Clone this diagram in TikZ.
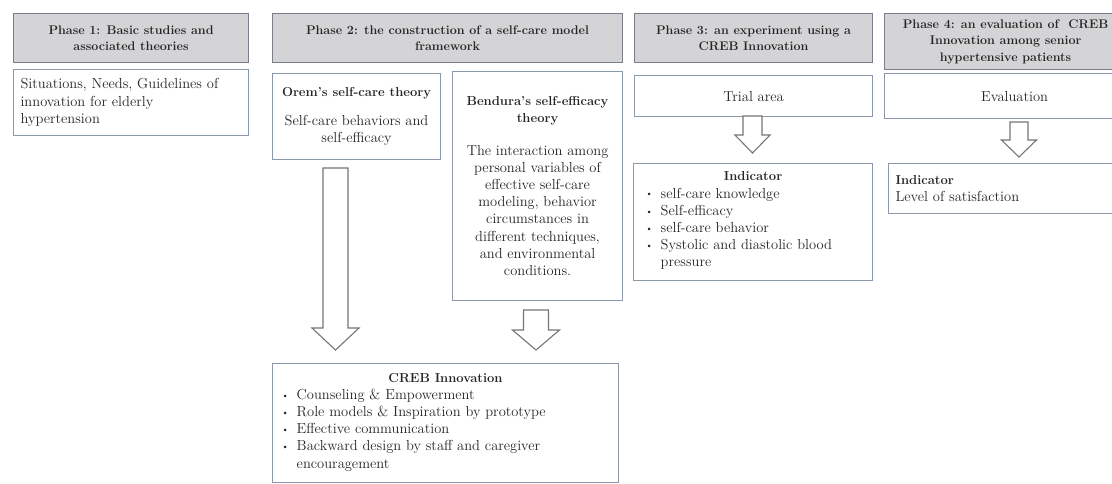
\documentclass[tikz,border=0pt]{standalone}
\usepackage{fontspec}
\definecolor{hdrfill}{RGB}{212,212,214}
\definecolor{hdrline}{RGB}{120,126,138}
\definecolor{boxline}{RGB}{140,152,172}
\definecolor{arrline}{RGB}{118,118,118}
\definecolor{txt}{RGB}{38,38,38}
\newcommand\bodyfnt{\fontsize{14.5}{17.2}\selectfont}
\newcommand\hdrfnt{\fontsize{12.5}{16.5}\selectfont\bfseries}
\newcommand\ttlfnt{\fontsize{13}{17}\selectfont\bfseries}
\newcommand\bul{\raisebox{1.2pt}{\small\textbullet}}
\newcommand\hollowarrow[6]{%
  \draw[barr] ({#1-#2},#4) -- ({#1+#2},#4) -- ({#1+#2},#5) -- ({#1+#3},#5)
    -- (#1,#6) -- ({#1-#3},#5) -- ({#1-#2},#5) -- cycle;}
\begin{document}
\begin{tikzpicture}[x=1pt,y=-1pt,
  box/.style={draw=boxline, line width=1.1pt, fill=white, inner ysep=0pt,
    inner xsep=7pt, anchor=north west, text=txt, font=\bodyfnt},
  hdr/.style={box, draw=hdrline, fill=hdrfill, font=\hdrfnt, align=center},
  barr/.style={draw=arrline, line width=1.1pt, fill=white, line join=miter}]
\useasboundingbox (0,0) rectangle (1112,483);
\fill[white] (0,0) rectangle (1112,483);

% Phase 1
\node[hdr, minimum width=235pt, minimum height=49pt] (p1h) at (13,13)
  {Phase 1: Basic studies and\\associated theories};
\node[box, minimum width=235pt, minimum height=66pt, text width=221pt, align=left] (p1b) at (13,69)
  {Situations, Needs, Guidelines of\\innovation for elderly\\hypertension};

% Phase 2
\node[hdr, minimum width=350pt, minimum height=49pt] (p2h) at (272,13)
  {Phase 2: the construction of a self-care model\\framework};
\node[box, minimum width=168pt, minimum height=86pt, align=center] (orem) at (272,73)
  {{\ttlfnt Orem's self-care theory}\\[12pt]Self-care behaviors and\\self-efficacy};
\node[box, minimum width=170pt, minimum height=229pt, align=center] (bend) at (452,71)
  {{\ttlfnt Bendura's self-efficacy}\\{\ttlfnt theory}\\[15pt]%
   The interaction among\\personal variables of\\effective self-care\\modeling, behavior\\circumstances in\\different techniques,\\and environmental\\conditions.};
\node[box, minimum width=346pt, minimum height=119pt, inner xsep=9pt, text width=328pt, align=left] (creb) at (272,363)
  {\hfill{\ttlfnt CREB Innovation}\hfill\null\\
   \begin{tabular}[t]{@{}l@{\hspace{8pt}}l@{}}
   \bul & Counseling \& Empowerment\\
   \bul & Role models \& Inspiration by prototype\\
   \bul & Effective communication\\
   \bul & Backward design by staff and caregiver\\
    & encouragement
   \end{tabular}};

% Phase 3
\node[hdr, minimum width=238pt, minimum height=49pt] (p3h) at (634,13)
  {Phase 3: an experiment using a\\CREB Innovation};
\node[box, minimum width=238pt, minimum height=41pt, align=center] (trial) at (634,75)
  {Trial area};
\node[box, minimum width=239pt, minimum height=117pt, inner xsep=12pt, text width=215pt, align=left] (ind3) at (633,163)
  {\hfill{\ttlfnt Indicator}\hfill\null\\
   \begin{tabular}[t]{@{}l@{\hspace{8pt}}l@{}}
   \bul & self-care knowledge\\
   \bul & Self-efficacy\\
   \bul & self-care behavior\\
   \bul & Systolic and diastolic blood\\
    & pressure
   \end{tabular}};

% Phase 4
\node[hdr, minimum width=242pt, minimum height=56pt] (p4h) at (884,13)
  {Phase 4: an evaluation of\ \ CREB\\Innovation among senior\\hypertensive patients};
\node[box, minimum width=260pt, minimum height=45pt, align=center] (eval) at (884,73)
  {Evaluation};
\node[box, minimum width=262pt, minimum height=50pt, text width=248pt, align=left] (ind4) at (888,163)
  {{\ttlfnt Indicator}\\Level of satisfaction};

% hollow block arrows
\hollowarrow{335.5}{12.5}{23.5}{168}{328}{350}
\hollowarrow{536}{12.5}{23.5}{310}{330}{350}
\hollowarrow{752.5}{9.5}{17.5}{116}{135}{153}
\hollowarrow{1019}{9}{17.5}{122}{140}{157}
\end{tikzpicture}
\end{document}
